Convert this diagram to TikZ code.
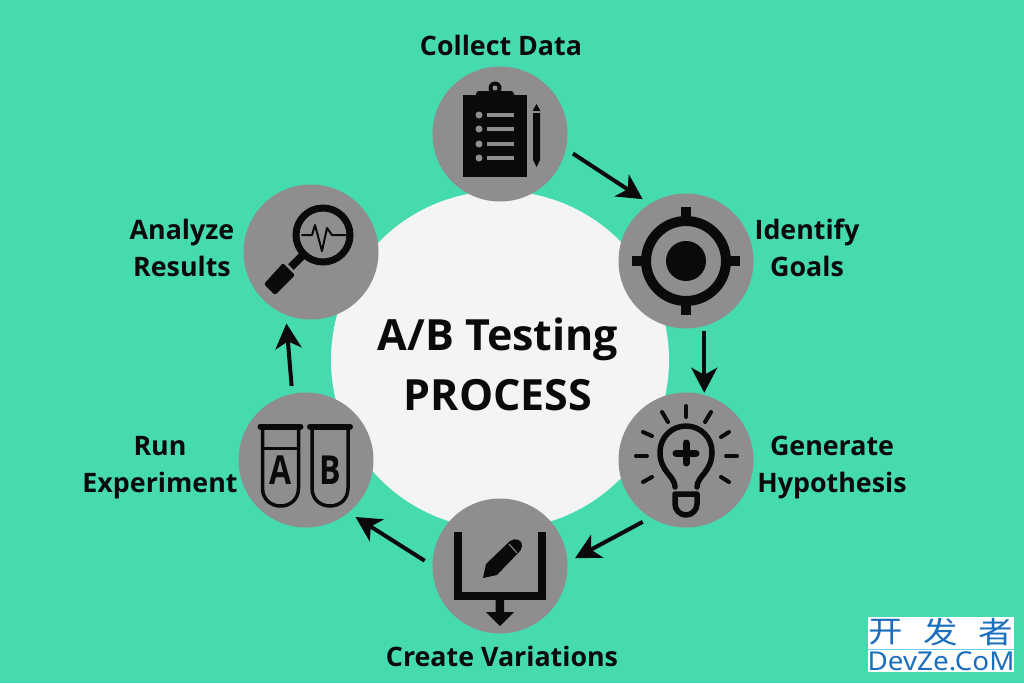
\documentclass[tikz,border=0pt]{standalone}
\usepackage{fontspec}
\setmainfont{Open Sans}
\newfontfamily\cjk{Noto Sans CJK SC}
\newfontfamily\markfont{Noto Sans}
\usetikzlibrary{arrows.meta}
\definecolor{bgteal}{HTML}{45DBAE}
\definecolor{stepgray}{HTML}{8F8D8E}
\definecolor{hubwhite}{HTML}{F4F4F4}
\definecolor{inkblack}{HTML}{0A0A0A}
\definecolor{markblue}{HTML}{1B6FBE}
\tikzset{
  stepcircle/.style={circle, fill=stepgray, minimum size=135pt, inner sep=0pt, outer sep=8pt},
  steplabel/.style={text=inkblack, font=\fontsize{26.8}{37}\selectfont\bfseries, align=center, inner sep=0pt},
  titlelabel/.style={text=inkblack, font=\fontsize{43}{60}\selectfont\bfseries, align=center, inner sep=0pt},
  tubeletter/.style={text=inkblack, font=\fontsize{40}{40}\selectfont\bfseries, inner sep=0pt, xscale=.8},
  flowarrow/.style={-{Stealth[length=25pt,width=26pt,inset=7pt]}, line width=4pt, inkblack},
  icon/.style={draw=inkblack, line cap=round, line join=round},
  cjkmark/.style={text=markblue, font=\fontsize{30}{30}\cjk, inner sep=0pt}
}
\begin{document}
\begin{tikzpicture}[x=1pt,y=-1pt]
  % Background
  \fill[bgteal] (0,0) rectangle (1024,683);
  \useasboundingbox (0,0) rectangle (1024,683);
  % Centre disc
  \node[circle, fill=hubwhite, minimum size=338pt, inner sep=0pt] (hub) at (500,360) {};
  \node[titlelabel] (title) at (498,364) {A/B Testing\\PROCESS};
  % Step circles
  \foreach \name/\x/\y in {collect/500/134, identify/686/261, generate/686/460, create/500/566, run/306/460, analyze/311/252}
    \node[stepcircle] (\name) at (\x,\y) {};
  % Arrows
  \draw[flowarrow] (collect.-15) -- (identify.125);
  \draw[flowarrow, shorten <=-3pt, shorten >=-6pt] (identify.-76) -- (generate.76);
  \draw[flowarrow] (generate.-125) -- (create.6);
  \draw[flowarrow] (create.176) -- (run.-49);
  \draw[flowarrow] (run.101) -- (analyze.-109);
  % Labels
  \node[steplabel] (collectlabel) at (501,45) {Collect Data};
  \node[steplabel] (identifylabel) at (807,248) {Identify\\Goals};
  \node[steplabel] (generatelabel) at (832,468) {Generate\\Hypothesis};
  \node[steplabel] (createlabel) at (502,656) {Create Variations};
  \node[steplabel] (runlabel) at (160,468) {Run\\Experiment};
  \node[steplabel] (analyzelabel) at (182,248) {Analyze\\Results};
  % Clipboard
  \fill[inkblack] (463,95) rectangle (527,177);
  \fill[inkblack, rounded corners=3pt] (476,91) rectangle (514,99);
  \fill[inkblack] (495,88) circle (6.5);
  \fill[stepgray] (495,88) circle (2.5);
  \foreach \y in {115,129,144,158} {
    \fill[stepgray] (479,\y) circle (3.5);
    \draw[stepgray, line width=3.5pt] (487,\y) -- (514,\y);
  }
  \fill[inkblack] (533,110) -- (536.5,104) -- (540,110) -- (540,160) -- (536.5,167) -- (533,160) -- cycle;
  \draw[stepgray, line width=1.2pt] (533,112) -- (540,112);
  % Target
  \draw[inkblack, line width=10pt] (686,261) circle (40);
  \fill[inkblack] (686,261) circle (20);
  \foreach \dx/\dy in {0/-1, 0/1, -1/0, 1/0}
    \draw[inkblack, line width=10pt] (686+40*\dx,261+40*\dy) -- (686+54*\dx,261+54*\dy);
  % Light bulb
  \draw[icon, line width=5.5pt] (675,487) .. controls (675,476) and (660,472) .. (660,452) .. controls (660,437) and (672,426) .. (686,426) .. controls (700,426) and (712,437) .. (712,452) .. controls (712,472) and (697,476) .. (697,487);
  \draw[icon, line width=5.5pt] (675,494) -- (697,494) -- (697,504) .. controls (697,510) and (692,515) .. (686,515) .. controls (680,515) and (675,510) .. (675,504) -- cycle;
  \draw[icon, line width=7pt] (686,443) -- (686,463);
  \draw[icon, line width=7pt] (676,453) -- (696,453);
  \foreach \xa/\ya/\xb/\yb in {686/406/686/417, 662/412/668/422, 711/412/705/422, 643/432/652/436, 729/432/721/437, 636/456/647/456, 726/456/737/456, 643/482/652/477, 729/482/721/477}
    \draw[icon, line width=4pt] (\xa,\ya) -- (\xb,\yb);
  % Document with pencil
  \draw[inkblack, line width=8pt, line join=miter] (458,532) -- (458,595.5) -- (541.5,595.5) -- (541.5,532);
  \fill[inkblack] (495.5,599) -- (504,599) -- (504,612) -- (514,612) -- (500,626) -- (486,612) -- (495.5,612) -- cycle;
  \fill[inkblack] (483,578) -- (486,564) -- (510,541) .. controls (515,537) and (523,540) .. (522,546) .. controls (522,549) and (520,551) .. (519,552) -- (497,575) -- cycle;
  \draw[stepgray, line width=1pt] (509,544) -- (517,553);
  % Test tubes
  \foreach \cx in {280.5,330} {
    \draw[icon, line width=3.5pt] (\cx-18,430) -- (\cx-18,488) .. controls (\cx-18,500) and (\cx-9,506) .. (\cx,506) .. controls (\cx+9,506) and (\cx+18,500) .. (\cx+18,488) -- (\cx+18,430);
    \draw[icon, line width=6pt] (\cx-20,426.5) -- (\cx+20,426.5);
  }
  \draw[inkblack, line width=3pt] (263,448) -- (298,448);
  \node[tubeletter] (tubea) at (280.5,470) {A};
  \node[tubeletter] (tubeb) at (330,470) {B};
  % Magnifier
  \draw[inkblack, line width=7pt] (323,235) circle (27);
  \draw[icon, line width=2pt] (302,235) -- (312,235) -- (315,225) -- (322,251) -- (327,228) -- (332,235) -- (347,235);
  \draw[inkblack, line width=8pt] (303,255) -- (291,267);
  \fill[inkblack, rounded corners=2pt] (283,263) -- (295,275) -- (275,295) -- (264,284) -- cycle;
  % Watermark
  \fill[white] (868,617) rectangle (1014,672);
  \draw[cyan!60, line width=1pt] (868,649) -- (1014,649);
  \node[cjkmark, xscale=1.15] (markone) at (885.5,632) {开};
  \node[cjkmark, xscale=1.15] (marktwo) at (941,632) {发};
  \node[cjkmark, xscale=1.15] (markthree) at (995.5,632) {者};
  \node[text=markblue, font=\fontsize{26}{26}\markfont, inner sep=0pt, xscale=1.07] (markname) at (941,661) {DevZe.CoM};
\end{tikzpicture}
\end{document}
